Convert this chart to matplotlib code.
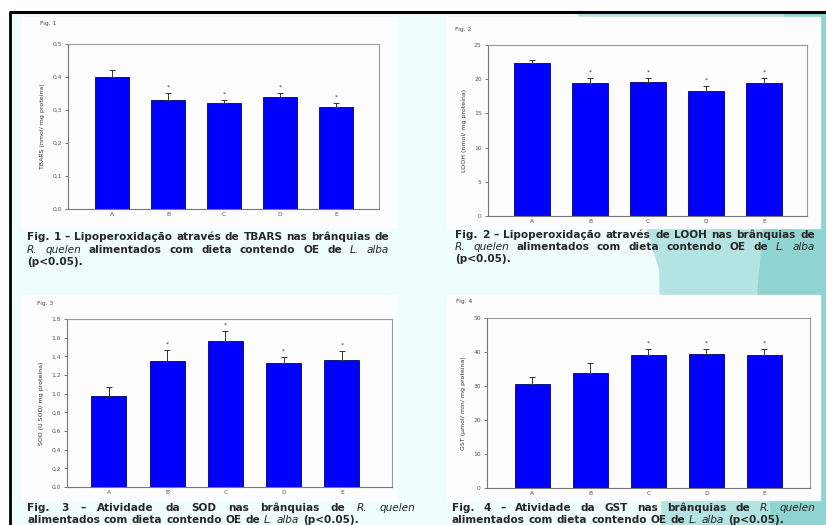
import numpy as np
import matplotlib
matplotlib.use("Agg")
import matplotlib.pyplot as plt
from matplotlib.patches import Rectangle, Polygon

# data
groups = ['A', 'B', 'C', 'D', 'E']

tbars = [0.40, 0.33, 0.32, 0.34, 0.31]
tbars_err = [0.02, 0.02, 0.01, 0.01, 0.01]
tbars_sig = [False, True, True, True, True]

looh = [22.4, 19.5, 19.6, 18.3, 19.5]
looh_err = [0.45, 0.7, 0.6, 0.75, 0.7]
looh_sig = [False, True, True, True, True]

sod = [0.98, 1.35, 1.56, 1.33, 1.36]
sod_err = [0.09, 0.12, 0.115, 0.06, 0.10]
sod_sig = [False, True, True, True, True]

gst = [30.7, 33.7, 39.0, 39.3, 39.2]
gst_err = [2.0, 3.0, 1.8, 1.5, 1.6]
gst_sig = [False, False, True, True, True]

tbars_ticks = ['0,0', '0,1', '0,2', '0,3', '0,4', '0,5']
looh_ticks = ['0', '5', '10', '15', '20', '25']
sod_ticks = ['0,0', '0,2', '0,4', '0,6', '0,8', '1,0', '1,2', '1,4', '1,6', '1,8']
gst_ticks = ['0', '10', '20', '30', '40', '50']

W, H = 826, 525
fig = plt.figure(figsize=(W / 100, H / 100), dpi=100)
fig.patch.set_facecolor('white')

# slide background, drawn in pixel coordinates
bg = fig.add_axes([0, 0, 1, 1])
bg.set_xlim(0, W)
bg.set_ylim(H, 0)
bg.axis('off')
bg.add_patch(Rectangle((9, 12), W - 9, H - 12, color='#effdfd', zorder=0))
bg.add_patch(Polygon([(578, 12), (W, 12), (W, H), (662, H), (660, 270)],
                     closed=True, color='#b4e4e2', zorder=0.5))
bg.add_patch(Polygon([(785, 12), (W, 12), (W, H), (772, H), (758, 290)],
                     closed=True, color='#90d4d1', zorder=0.6))
bg.plot([9, W], [12, 12], color='black', lw=2.2, zorder=3, solid_capstyle='butt')
bg.plot([10, 10], [12, H], color='black', lw=2.0, zorder=3, solid_capstyle='butt')

boxes = [(22, 17, 396, 227), (447, 17, 820, 228), (22, 295, 396, 500), (447, 295, 820, 500)]
for x0, y0, x1, y1 in boxes:
    bg.add_patch(Rectangle((x0, y0), x1 - x0, y1 - y0, color='#fdfdfd', zorder=1))

fig_labels = [('Fig. 1', 40, 23), ('Fig. 2', 455, 30), ('Fig. 3', 37, 303), ('Fig. 4', 456, 302)]
for s, x, y in fig_labels:
    bg.text(x, y, s, fontsize=4.3, color='#444444', va='center', ha='left', zorder=2)


def panel(box, vals, errs, sig, ticks, step, ylabel, xlim, width):
    l, t, r, b = box
    ax = fig.add_axes([l / W, 1 - b / H, (r - l) / W, (b - t) / H])
    x = np.arange(len(groups))
    ax.bar(x, vals, width=width, color='#0000ff', edgecolor='#00006a', linewidth=0.6, zorder=2)
    ax.errorbar(x, vals, yerr=[np.zeros(len(vals)), errs], fmt='none', ecolor='#333333',
                elinewidth=0.7, capsize=2.2, capthick=0.7, zorder=3)
    for xi, v, e, s in zip(x, vals, errs, sig):
        if s:
            ax.annotate('*', (xi, v + e), xytext=(0, 2.5), textcoords='offset points',
                        ha='center', va='bottom', fontsize=4.5, color='#333333')
    yt = np.arange(len(ticks)) * step
    ax.set_yticks(yt)
    ax.set_yticklabels(ticks)
    ax.set_ylim(0, yt[-1])
    ax.set_xlim(*xlim)
    ax.set_xticks(x)
    ax.set_xticklabels(groups)
    ax.tick_params(axis='y', direction='out', length=2.5, width=0.6, colors='#666666',
                   labelsize=4.3, labelcolor='#555555', pad=2)
    ax.tick_params(axis='x', length=0, labelsize=4.3, labelcolor='#555555', pad=2)
    ax.set_ylabel(ylabel, fontsize=4.5, color='#333333', labelpad=5)
    for sp in ax.spines.values():
        sp.set_color('#999999')
        sp.set_linewidth(0.8)
    ax.spines['left'].set_color('#777777')
    ax.spines['bottom'].set_color('#777777')
    ax.set_facecolor('#fdfdfd')
    return ax


panel((68, 44, 379, 209), tbars, tbars_err, tbars_sig, tbars_ticks, 0.1,
      'TBARS (nmol/ mg proteína)', (-0.79, 4.77), 0.61)
panel((488, 45, 807, 216), looh, looh_err, looh_sig, looh_ticks, 5,
      'LOOH (nmol/ mg proteína)', (-0.76, 4.74), 0.61)
panel((67, 319, 392, 487), sod, sod_err, sod_sig, sod_ticks, 0.2,
      'SOD (U SOD/ mg proteína)', (-0.72, 4.86), 0.6)
panel((487, 318, 810, 488), gst, gst_err, gst_sig, gst_ticks, 10,
      'GST (µmol/ min/ mg proteína)', (-0.78, 4.79), 0.6)

# captions, justified like the slide text
fig.canvas.draw()
renderer = fig.canvas.get_renderer()


def caption_line(x0, x1, y, words, justify=True):
    texts = []
    for w in words:
        italic = w.startswith('_')
        w = w.lstrip('_')
        t = bg.text(0, y, w, fontsize=7.6, fontweight='normal' if italic else 'bold',
                    fontstyle='italic' if italic else 'normal', color='#262626',
                    va='center', ha='left', zorder=2)
        texts.append(t)
    widths = [t.get_window_extent(renderer).width for t in texts]
    if justify and len(texts) > 1:
        gap = (x1 - x0 - sum(widths)) / (len(texts) - 1)
    else:
        gap = 3.8
    x = x0
    for t, w in zip(texts, widths):
        t.set_x(x)
        x += w + gap


line_r = ['_R.', '_quelen', 'alimentados', 'com', 'dieta', 'contendo', 'OE', 'de', '_L.', '_alba']
line_end = ['alimentados', 'com', 'dieta', 'contendo', 'OE', 'de', '_L.', '_alba', '(p<0.05).']

caption_line(27, 389, 237, 'Fig. 1 – Lipoperoxidação através de TBARS nas brânquias de'.split())
caption_line(27, 389, 250, line_r)
caption_line(27, 389, 262, ['(p<0.05).'], justify=False)

caption_line(455, 815, 235, 'Fig. 2 – Lipoperoxidação através de LOOH nas brânquias de'.split())
caption_line(455, 815, 247, line_r)
caption_line(455, 815, 259, ['(p<0.05).'], justify=False)

caption_line(27, 415, 508, 'Fig. 3 – Atividade da SOD nas brânquias de'.split() + ['_R.', '_quelen'])
caption_line(27, 415, 520, line_end, justify=False)

caption_line(452, 815, 508, 'Fig. 4 – Atividade da GST nas brânquias de'.split() + ['_R.', '_quelen'])
caption_line(452, 815, 520, line_end, justify=False)

fig.savefig('out.png', dpi=100)
